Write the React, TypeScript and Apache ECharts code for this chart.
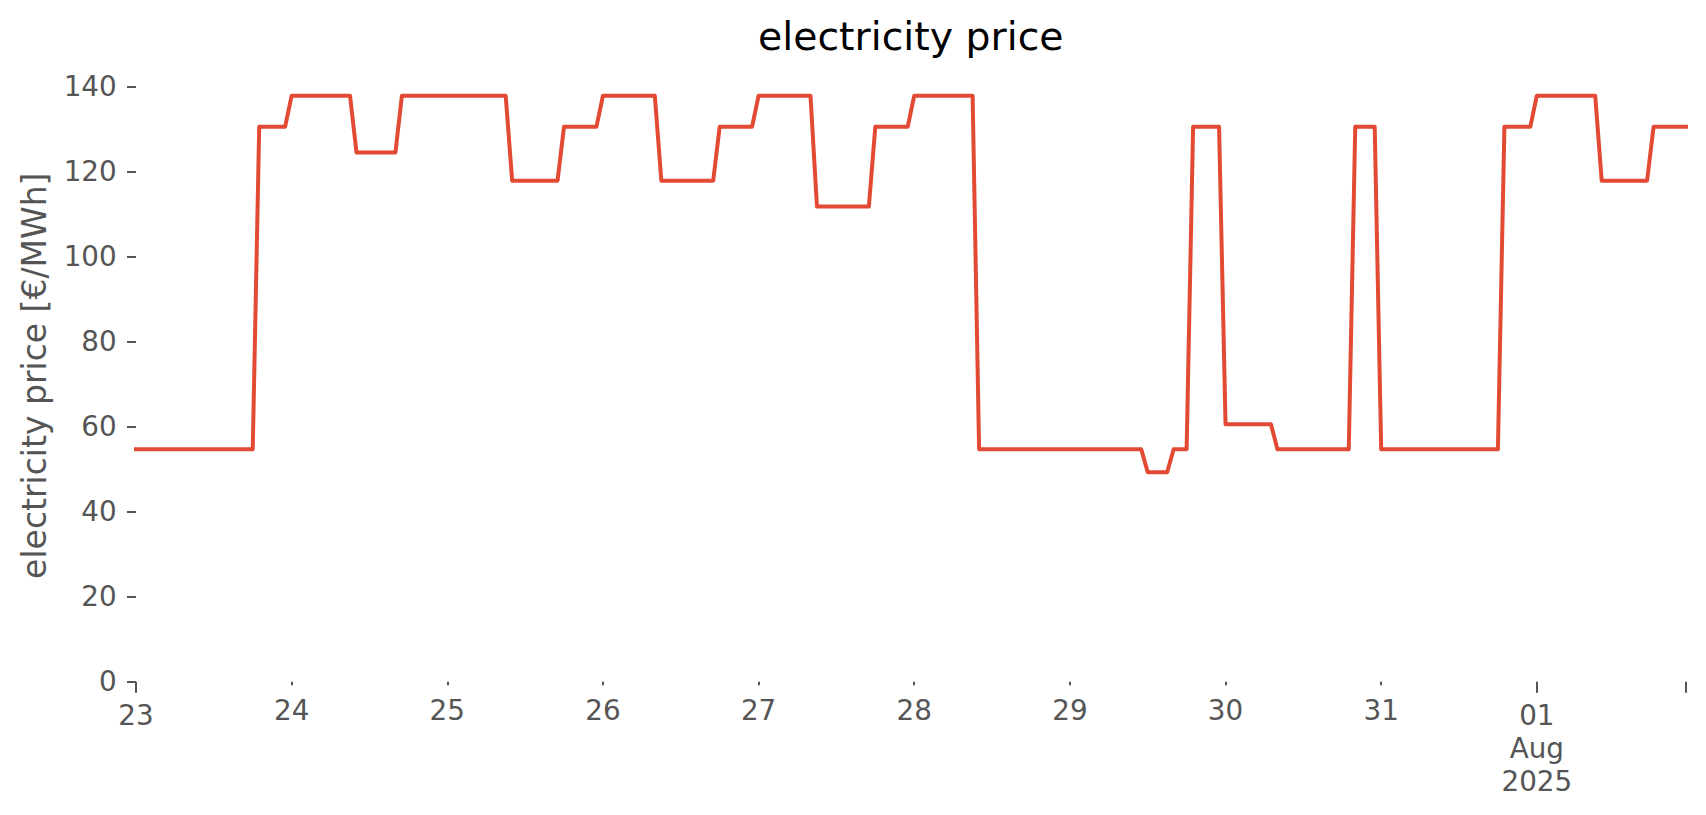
import React, { useEffect, useRef } from "react";
import * as echarts from "echarts";

// hourly electricity price [€/MWh], one array per day (00:00 … 23:00)
const jul23 = [54.7, 54.7, 54.7, 54.7, 54.7, 54.7, 54.7, 54.7, 54.7, 54.7, 54.7, 54.7, 54.7, 54.7, 54.7, 54.7, 54.7, 54.7, 54.7, 130.6, 130.6, 130.6, 130.6, 130.6];
const jul24 = [137.9, 137.9, 137.9, 137.9, 137.9, 137.9, 137.9, 137.9, 137.9, 137.9, 124.5, 124.5, 124.5, 124.5, 124.5, 124.5, 124.5, 137.9, 137.9, 137.9, 137.9, 137.9, 137.9, 137.9];
const jul25 = [137.9, 137.9, 137.9, 137.9, 137.9, 137.9, 137.9, 137.9, 137.9, 137.9, 117.9, 117.9, 117.9, 117.9, 117.9, 117.9, 117.9, 117.9, 130.6, 130.6, 130.6, 130.6, 130.6, 130.6];
const jul26 = [137.9, 137.9, 137.9, 137.9, 137.9, 137.9, 137.9, 137.9, 137.9, 117.9, 117.9, 117.9, 117.9, 117.9, 117.9, 117.9, 117.9, 117.9, 130.6, 130.6, 130.6, 130.6, 130.6, 130.6];
const jul27 = [137.9, 137.9, 137.9, 137.9, 137.9, 137.9, 137.9, 137.9, 137.9, 111.8, 111.8, 111.8, 111.8, 111.8, 111.8, 111.8, 111.8, 111.8, 130.6, 130.6, 130.6, 130.6, 130.6, 130.6];
const jul28 = [137.9, 137.9, 137.9, 137.9, 137.9, 137.9, 137.9, 137.9, 137.9, 137.9, 54.7, 54.7, 54.7, 54.7, 54.7, 54.7, 54.7, 54.7, 54.7, 54.7, 54.7, 54.7, 54.7, 54.7];
const jul29 = [54.7, 54.7, 54.7, 54.7, 54.7, 54.7, 54.7, 54.7, 54.7, 54.7, 54.7, 54.7, 49.3, 49.3, 49.3, 49.3, 54.7, 54.7, 54.7, 130.6, 130.6, 130.6, 130.6, 130.6];
const jul30 = [60.6, 60.6, 60.6, 60.6, 60.6, 60.6, 60.6, 60.6, 54.7, 54.7, 54.7, 54.7, 54.7, 54.7, 54.7, 54.7, 54.7, 54.7, 54.7, 54.7, 130.6, 130.6, 130.6, 130.6];
const jul31 = [54.7, 54.7, 54.7, 54.7, 54.7, 54.7, 54.7, 54.7, 54.7, 54.7, 54.7, 54.7, 54.7, 54.7, 54.7, 54.7, 54.7, 54.7, 54.7, 130.6, 130.6, 130.6, 130.6, 130.6];
const aug01 = [137.9, 137.9, 137.9, 137.9, 137.9, 137.9, 137.9, 137.9, 137.9, 137.9, 117.9, 117.9, 117.9, 117.9, 117.9, 117.9, 117.9, 117.9, 130.6, 130.6, 130.6, 130.6, 130.6, 130.6];

const days = [jul23, jul24, jul25, jul26, jul27, jul28, jul29, jul30, jul31, aug01];
const minorDayLabels = ["", "24", "25", "26", "27", "28", "29", "30", "31", ""];
const majorDayLabels: Record<number, string> = { 0: "23", 216: "01\nAug\n2025" };
const yTicks = [0, 20, 40, 60, 80, 100, 120, 140];

const FONT = "'DejaVu Sans', sans-serif";
const GREY = "#555555";

export default function App() {
  const ref = useRef<HTMLDivElement>(null);

  useEffect(() => {
    if (!ref.current) return;
    const chart = echarts.init(ref.current, null, { renderer: "svg" });
    const prices = days.flat();
    const data = prices.map((v, i) => [i, v]);
    const lastHour = prices.length - 1;

    const labelStyle = {
      color: GREY,
      fontSize: 27.8,
      fontFamily: FONT,
      lineHeight: 33,
    };

    chart.setOption({
      animation: false,
      backgroundColor: "#ffffff",
      title: {
        text: "electricity price",
        left: 753,
        top: 11,
        textStyle: {
          fontFamily: FONT,
          fontSize: 39.4,
          fontWeight: "normal",
          color: "#000000",
        },
      },
      grid: { left: 136, right: 20, top: 69.7, bottom: 133.3, containLabel: false },
      xAxis: [
        {
          type: "value",
          position: "bottom",
          min: 0,
          max: lastHour,
          interval: 24,
          offset: 3,
          axisLine: { show: false },
          splitLine: { show: false },
          axisTick: { show: true, length: 3.5, lineStyle: { color: GREY, width: 2 } },
          axisLabel: {
            ...labelStyle,
            margin: 9.5,
            formatter: (v: number) => (v % 24 === 0 ? minorDayLabels[v / 24] ?? "" : ""),
          },
        },
        {
          type: "value",
          position: "bottom",
          min: 0,
          max: lastHour,
          interval: 216,
          offset: 3,
          axisLine: { show: false },
          splitLine: { show: false },
          axisTick: { show: true, length: 8, lineStyle: { color: GREY, width: 2 } },
          axisLabel: {
            ...labelStyle,
            margin: 14.5,
            formatter: (v: number) => majorDayLabels[v] ?? "",
          },
        },
      ],
      yAxis: {
        type: "value",
        min: 0,
        max: 144,
        name: "electricity price [€/MWh]",
        nameLocation: "middle",
        nameGap: 85,
        nameTextStyle: { color: GREY, fontSize: 33, fontFamily: FONT },
        axisLine: { show: false },
        splitLine: { show: false },
        axisTick: { show: true, length: 9, customValues: yTicks, lineStyle: { color: GREY, width: 2 } },
        axisLabel: {
          color: GREY,
          fontSize: 27.8,
          fontFamily: FONT,
          margin: 19.3,
          customValues: yTicks,
        },
      },
      series: [
        {
          type: "line",
          xAxisIndex: 0,
          data,
          symbol: "none",
          showSymbol: false,
          lineStyle: { color: "#E24A33", width: 4, cap: "square", join: "round" },
        },
      ],
    });

    return () => chart.dispose();
  }, []);

  return (
    <div
      ref={ref}
      style={{ position: "absolute", left: 0, top: 0, width: 1706, height: 815, background: "#fff" }}
    />
  );
}
